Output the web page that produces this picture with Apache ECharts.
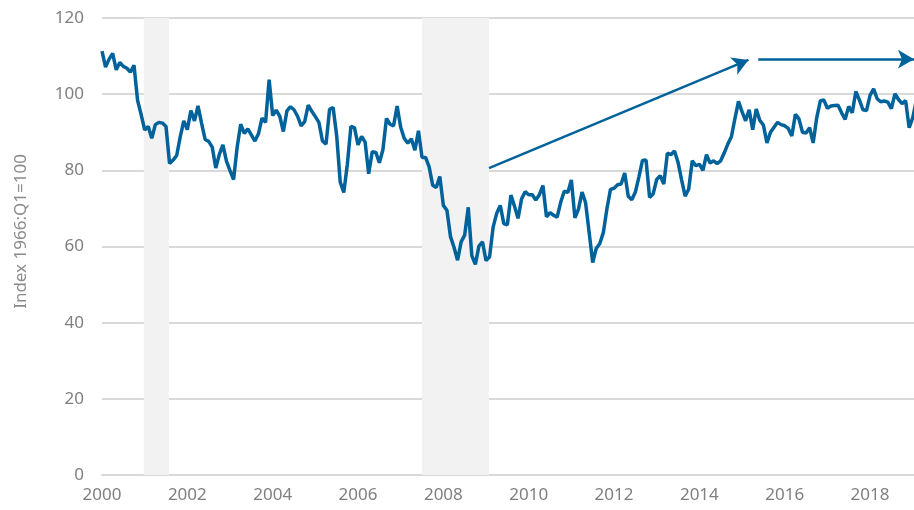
<!DOCTYPE html>
<html>
<head>
<meta charset="utf-8">
<script src="https://cdn.jsdelivr.net/npm/echarts@6/dist/echarts.min.js"></script>
<style>html,body{margin:0;padding:0;background:#fff}#c{width:914px;height:510px}</style>
</head>
<body>
<div id="c"></div>
<script>
// Monthly index values, first point plotted at the 2000 tick
const startYear = 2000;
const values = [
  111.3, 107.1, 109.2, 110.7, 106.4, 108.3, 107.3, 106.8, 105.8, 107.6, 98.4,
  94.7, 90.6, 91.5, 88.4, 92.0, 92.6, 92.4, 91.5, 81.8, 82.7, 83.9, 88.8,
  93.0, 90.7, 95.7, 93.0, 96.9, 92.4, 88.1, 87.6, 86.1, 80.6, 84.2, 86.7,
  82.4, 79.9, 77.6, 86.0, 92.1, 89.7, 90.9, 89.3, 87.7, 89.6, 93.7, 92.6,
  103.8, 94.4, 95.8, 94.2, 90.2, 95.6, 96.7, 95.9, 94.2, 91.7, 92.8, 97.1,
  95.5, 94.1, 92.6, 87.7, 86.9, 96.0, 96.5, 89.1, 76.9, 74.2, 81.6, 91.5,
  91.2, 86.7, 88.9, 87.4, 79.1, 84.9, 84.7, 82.0, 85.4, 93.6, 92.1, 91.7,
  96.9, 91.3, 88.4, 87.1, 88.3, 85.3, 90.4, 83.4, 83.4, 80.9, 76.1, 75.5,
  78.4, 70.8, 69.5, 62.6, 59.8, 56.4, 61.2, 63.0, 70.3, 57.6, 55.3, 60.1,
  61.2, 56.3, 57.3, 65.1, 68.7, 70.8, 66.0, 65.7, 73.5, 70.6, 67.4, 72.5,
  74.4, 73.6, 73.6, 72.2, 73.6, 76.0, 67.8, 68.9, 68.2, 67.7, 71.6, 74.5,
  74.2, 77.5, 67.5, 69.8, 74.3, 71.5, 63.7, 55.8, 59.5, 60.8, 63.7, 69.9,
  75.0, 75.3, 76.2, 76.4, 79.3, 73.2, 72.3, 74.3, 78.3, 82.6, 82.7, 72.9,
  73.8, 77.6, 78.6, 76.4, 84.5, 84.1, 85.1, 82.1, 77.5, 73.2, 75.1, 82.5,
  81.2, 81.6, 80.0, 84.1, 81.9, 82.5, 81.8, 82.5, 84.6, 86.9, 88.8, 93.6,
  98.1, 95.4, 93.0, 95.9, 90.7, 96.1, 93.1, 91.9, 87.2, 90.0, 91.3, 92.6,
  92.0, 91.7, 91.0, 89.0, 94.7, 93.5, 90.0, 89.8, 91.2, 87.2, 93.8, 98.2,
  98.5, 96.3, 96.9, 97.0, 97.1, 95.1, 93.4, 96.8, 95.1, 100.7, 98.5, 95.9,
  95.7, 99.7, 101.4, 98.8, 98.0, 98.2, 97.9, 96.2, 100.1, 98.6, 97.5, 98.3,
  91.2, 93.8, 98.4
];
const recessions = [[2000.98, 2001.57], [2007.50, 2009.07]];
const arrows = [
  [[2009.07, 80.6], [2015.15, 109.0]],
  [[2015.38, 109.2], [2019.03, 109.2]]
];
const yTicks = [0, 20, 40, 60, 80, 100, 120];
const xMin = 2000, xMax = 2019.03;
const yName = 'Index 1966:Q1=100';

const blue = '#00629b';
const labelFont = {color: '#7f7f7f', fontSize: 17, fontFamily: 'Noto Sans'};
const series = [{
  type: 'line',
  data: values.map((v, i) => [startYear + i / 12, v]),
  showSymbol: false,
  lineStyle: {color: blue, width: 3.5},
  itemStyle: {color: blue},
  z: 3,
  markArea: {
    silent: true,
    itemStyle: {color: '#f2f2f2'},
    data: recessions.map(r => [{xAxis: r[0]}, {xAxis: r[1]}])
  }
}, {
  type: 'line',
  data: [],
  z: 4,
  markLine: {
    silent: true,
    symbol: ['none', 'arrow'],
    symbolSize: [14, 16],
    label: {show: false},
    lineStyle: {color: blue, width: 2.5, type: 'solid'},
    data: arrows.map(a => [{coord: a[0]}, {coord: a[1]}])
  }
}];

const chart = echarts.init(document.getElementById('c'), null, {renderer: 'canvas'});
chart.setOption({
  animation: false,
  backgroundColor: '#fff',
  grid: {left: 102, right: 0, top: 18, bottom: 35, containLabel: false},
  xAxis: {
    type: 'value', min: xMin, max: xMax, interval: 2,
    axisLine: {show: true, lineStyle: {color: '#d9d9d9', width: 2}},
    axisTick: {show: false},
    splitLine: {show: false},
    axisLabel: Object.assign({margin: 12, showMaxLabel: false,
      formatter: v => (v % 2 === 0 ? String(v) : '')}, labelFont)
  },
  yAxis: {
    type: 'value', min: yTicks[0], max: yTicks[yTicks.length - 1], interval: 20,
    name: yName, nameLocation: 'middle', nameGap: 72,
    nameTextStyle: {color: '#8c8c8c', fontSize: 17, fontFamily: 'Noto Sans', padding: [0, 0, 0, 30]},
    axisLine: {show: false},
    axisTick: {show: false},
    splitLine: {lineStyle: {color: '#d9d9d9', width: 2}},
    axisLabel: Object.assign({margin: 18}, labelFont)
  },
  series: series
});
</script>
</body>
</html>
